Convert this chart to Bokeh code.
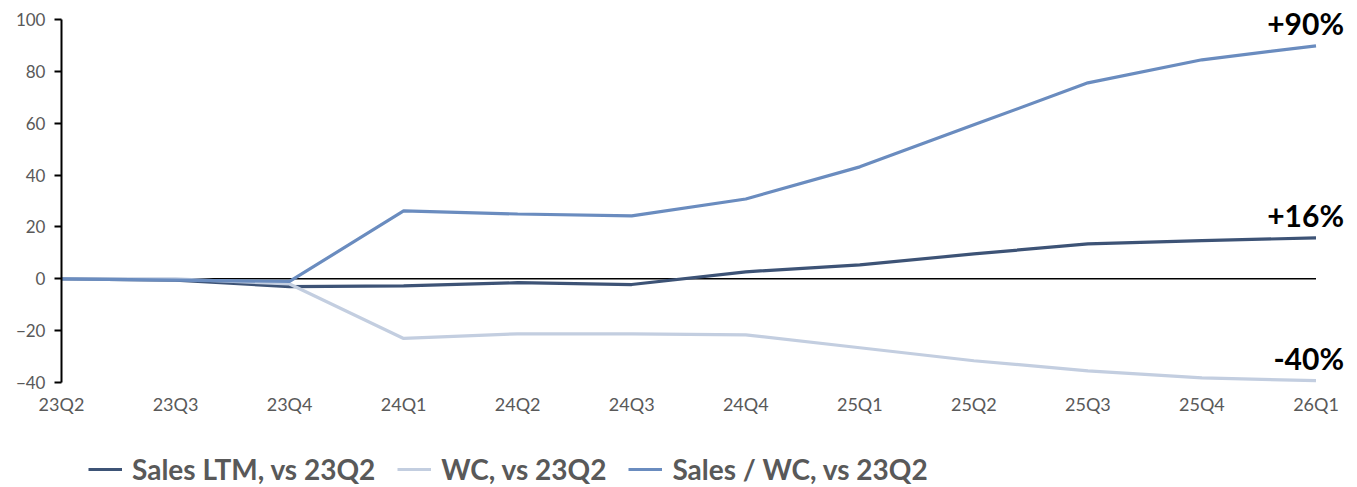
from bokeh.plotting import figure
from bokeh.models import Range1d, FixedTicker, Legend, LegendItem, ColumnDataSource
from bokeh.core.properties import value
from bokeh.embed import file_html
from bokeh.resources import INLINE

quarters = ["23Q2", "23Q3", "23Q4", "24Q1", "24Q2", "24Q3", "24Q4",
            "25Q1", "25Q2", "25Q3", "25Q4", "26Q1"]
sales_ltm = [0, -0.5, -3.0, -2.7, -1.5, -2.2, 2.7, 5.4, 9.6, 13.5, 14.7, 15.8]
wc = [0, 0.0, -2.0, -23.0, -21.2, -21.2, -21.6, -26.6, -31.6, -35.5, -38.2, -39.3]
sales_wc = [0, -0.5, -1.0, 26.2, 25.0, 24.3, 30.8, 43.2, 59.4, 75.6, 84.5, 89.9]
end_labels = ["+16%", "-40%", "+90%"]
series_names = ["Sales LTM, vs 23Q2", "WC, vs 23Q2", "Sales / WC, vs 23Q2"]
colors = ["#3D5376", "#C3CEE0", "#6A8CBF"]
y_ticks = [-40, -20, 0, 20, 40, 60, 80, 100]

FONT = "Lato"
x = list(range(len(quarters)))

p = figure(width=1357, height=487, output_backend="svg", toolbar_location=None,
           x_range=Range1d(-0.447, 11.32), y_range=Range1d(-80.5, 106.6),
           min_border_left=10, min_border_right=5, min_border_top=2,
           min_border_bottom=0)
p.outline_line_color = None
p.grid.grid_line_color = None
p.background_fill_color = "white"
p.border_fill_color = "white"

# zero line
p.line(x=[x[0], x[-1]], y=[0, 0], line_color="black", line_width=1.5)

renderers = []
for ys, c in zip([sales_ltm, wc, sales_wc], colors):
    r = p.line(x=x, y=ys, line_color=c, line_width=3.2)
    renderers.append(r)

# end labels
src = ColumnDataSource(dict(x=[x[-1]] * 3,
                            y=[sales_ltm[-1], wc[-1], sales_wc[-1]],
                            t=end_labels))
p.text(x="x", y="y", text="t", source=src, text_font=value(FONT),
       text_font_style="bold", text_font_size="30px", text_color="black",
       text_align="right", text_baseline="middle", x_offset=28, y_offset=-23)

# y axis
ya = p.yaxis[0]
ya.fixed_location = 0
ya.ticker = FixedTicker(ticks=y_ticks)
ya.bounds = (-40, 100)
ya.axis_line_color = "black"
ya.axis_line_width = 2
ya.major_tick_line_color = "black"
ya.major_tick_line_width = 2
ya.major_tick_out = 7
ya.major_tick_in = 0
ya.minor_tick_line_color = None
ya.major_label_text_font = FONT
ya.major_label_text_font_size = "17px"
ya.major_label_text_color = "#595959"
ya.major_label_standoff = 9

# x axis
xa = p.xaxis[0]
xa.fixed_location = -40
xa.ticker = FixedTicker(ticks=x)
xa.major_label_overrides = {i: q for i, q in enumerate(quarters)}
xa.axis_line_color = None
xa.major_tick_line_color = None
xa.minor_tick_line_color = None
xa.major_label_text_font = FONT
xa.major_label_text_font_size = "18px"
xa.major_label_text_color = "#595959"
xa.major_label_standoff = 4

legend = Legend(items=[LegendItem(label=n, renderers=[r]) for n, r in zip(series_names, renderers)],
                orientation="horizontal", location=(78, 1),
                label_text_font=FONT, label_text_font_style="bold",
                label_text_font_size="28px", label_text_color="#595959",
                glyph_width=34, label_standoff=10, spacing=22,
                border_line_color=None, background_fill_alpha=0,
                padding=0, margin=0)
p.add_layout(legend)

open("out.html", "w").write(file_html(p, INLINE))
